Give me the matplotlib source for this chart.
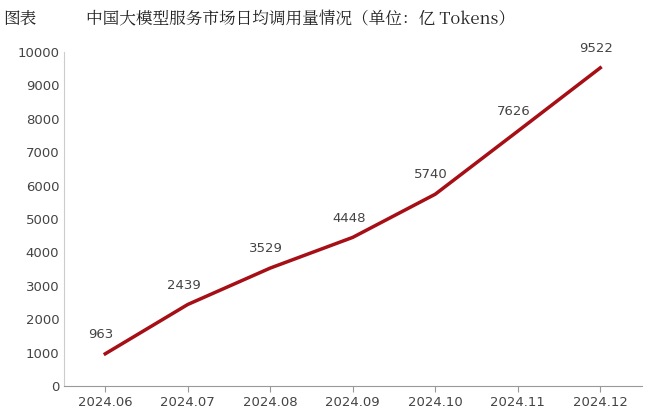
import matplotlib
matplotlib.use("Agg")
import matplotlib.pyplot as plt

months = ["2024.06", "2024.07", "2024.08", "2024.09", "2024.10", "2024.11", "2024.12"]
calls = [963, 2439, 3529, 4448, 5740, 7626, 9522]
yticks = list(range(0, 10001, 1000))

plt.rcParams['font.family'] = ['DejaVu Sans', 'Noto Sans CJK SC']
fig = plt.figure(figsize=(6.6, 4.15), dpi=100)
ax = fig.add_axes([0.097, 0.07, 0.875, 0.805])
x = list(range(len(months)))
ax.plot(x, calls, color="#A50F15", lw=2.5)
for xi, v in zip(x, calls):
    ax.text(xi - 0.05, v + 380, str(v), ha="center", va="bottom", fontsize=9.5, color="#444444")
ax.set_xlim(-0.5, 6.5)
ax.set_ylim(0, 10000)
ax.set_yticks(yticks)
ax.set_xticks(x)
ax.set_xticklabels(months)
ax.tick_params(axis="both", labelsize=9.5, colors="#444444")
ax.tick_params(axis="y", length=0)
ax.tick_params(axis="x", length=4, color="#999999")
for s in ["top", "right"]:
    ax.spines[s].set_visible(False)
ax.spines["left"].set_color("#cccccc")
ax.spines["bottom"].set_color("#999999")
fig.text(0.005, 0.975, "图表", fontsize=12, va="top", color="#222222",
         family=['Noto Serif CJK SC', 'Noto Sans CJK SC'])
fig.text(0.13, 0.975, "中国大模型服务市场日均调用量情况（单位：亿 Tokens）", fontsize=12,
         va="top", color="#222222",
         family=['Noto Serif CJK SC', 'Noto Sans CJK SC'])
fig.savefig("out.png", dpi=100, facecolor="white")
